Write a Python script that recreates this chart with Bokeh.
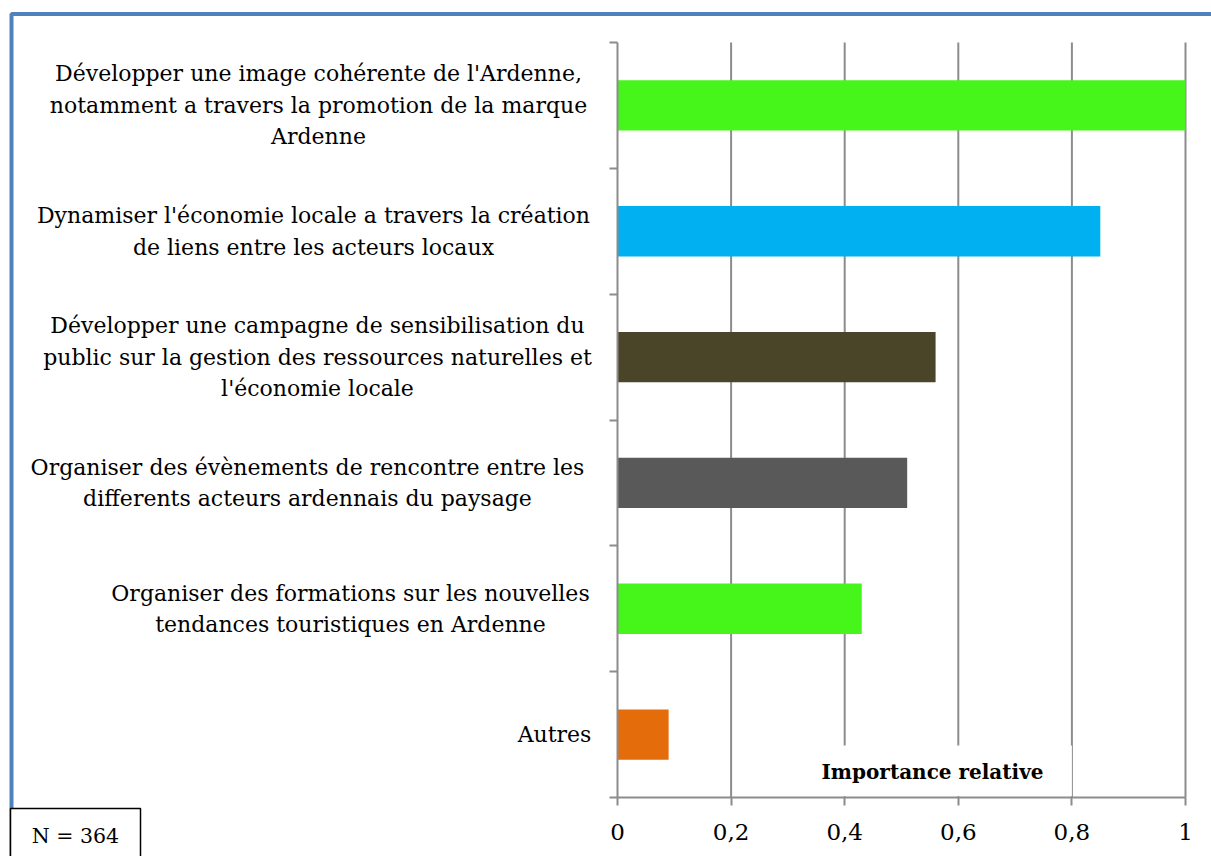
from bokeh.plotting import figure
from bokeh.models import (Range1d, FixedTicker, CustomJSTickFormatter, Label,
                          LinearAxis, ColumnDataSource)
from bokeh.embed import file_html
from bokeh.resources import INLINE

# ---- data ----
categories = [
    "Développer une image cohérente de l'Ardenne,\nnotamment a travers la promotion de la marque\nArdenne",
    "Dynamiser l'économie locale a travers la création\nde liens entre les acteurs locaux",
    "Développer une campagne de sensibilisation du\npublic sur la gestion des ressources naturelles et\nl'économie locale",
    "Organiser des évènements de rencontre entre les\ndifferents acteurs ardennais du paysage",
    "Organiser des formations sur les nouvelles\ntendances touristiques en Ardenne",
    "Autres",
]
values = [1.0, 0.85, 0.56, 0.51, 0.43, 0.09]
bar_colors = ["#46F51A", "#00B0F0", "#4A4429", "#595959", "#46F51A", "#E46C0A"]
x_ticks = [0, 0.2, 0.4, 0.6, 0.8, 1.0]
axis_title = "Importance relative"
n_note = "N = 364"

# ---- layout constants (pixels on the page) ----
W, H = 1211, 856
CH_L, CH_R, CH_T, CH_B = 617, 1185, 42, 797     # chart area (x 0..1, y 0..n)
label_center_px = [318, 313, 317, 307, 350, 554]  # x centre of each label block

n = len(categories)
ypos = [n - i - 0.5 for i in range(n)]

xs = (CH_R - CH_L)          # px per x unit
ys = (CH_B - CH_T) / n      # px per y unit
def px_to_x(px):
    return (px - CH_L) / xs
def py_to_y(py):
    return (CH_B - py) / ys

p = figure(width=W, height=H,
           x_range=Range1d(px_to_x(0), px_to_x(W)),
           y_range=Range1d(py_to_y(H), py_to_y(0)),
           x_axis_location=None, y_axis_location=None,
           output_backend="svg", toolbar_location=None,
           min_border=0, min_border_left=0, min_border_right=0,
           min_border_top=0, min_border_bottom=0)
p.outline_line_color = None
p.background_fill_color = "white"
p.border_fill_color = "white"
p.grid.visible = False

grid_col = "#8C8C8C"

# vertical gridlines over the chart area
p.segment(x0=x_ticks[1:], y0=0, x1=x_ticks[1:], y1=n,
          line_color=grid_col, line_width=2)

# bars
src = ColumnDataSource(dict(y=ypos, value=values, color=bar_colors, cat=categories))
p.hbar(y="y", left=0, right="value", height=0.4, fill_color="color",
       line_color=None, source=src)

# axes at fixed locations
xaxis = LinearAxis(fixed_location=0, bounds=(0, 1),
                   ticker=FixedTicker(ticks=x_ticks),
                   formatter=CustomJSTickFormatter(
                       code="return (Math.round(tick*10)/10).toString().replace('.', ',');"))
xaxis.major_label_text_font = "DejaVu Serif"
xaxis.major_label_text_font_size = "23px"
xaxis.major_label_text_color = "black"
xaxis.major_label_standoff = 18
xaxis.axis_line_color = grid_col
xaxis.axis_line_width = 2
xaxis.major_tick_line_color = grid_col
xaxis.major_tick_line_width = 2
xaxis.major_tick_out = 8
xaxis.major_tick_in = 0
xaxis.minor_tick_line_color = None
p.add_layout(xaxis, "below")

yaxis = LinearAxis(fixed_location=0, bounds=(0, n),
                   ticker=FixedTicker(ticks=list(range(n + 1))),
                   formatter=CustomJSTickFormatter(code="return '';"))
yaxis.major_label_text_font_size = "0px"
yaxis.axis_line_color = grid_col
yaxis.axis_line_width = 2
yaxis.major_tick_line_color = grid_col
yaxis.major_tick_line_width = 2
yaxis.major_tick_out = 8
yaxis.major_tick_in = 0
yaxis.minor_tick_line_color = None
p.add_layout(yaxis, "left")

# category labels (lines centred inside right-aligned blocks, as in Excel)
for i, cat in enumerate(categories):
    p.add_layout(Label(x=px_to_x(label_center_px[i]), y=ypos[i], text=cat,
                       text_align="center", text_baseline="middle",
                       text_font="DejaVu Serif", text_font_size="22px",
                       text_line_height=1.26, text_color="black"))

# axis title with white box inside the plot area
p.quad(left=px_to_x(815), right=0.8, bottom=0.01, top=py_to_y(745),
       fill_color="white", line_color=None)
p.add_layout(Label(x=px_to_x(932), y=py_to_y(771), text=axis_title,
                   text_align="center", text_baseline="middle",
                   text_font="DejaVu Serif", text_font_style="bold",
                   text_font_size="20px", text_color="black"))

# outer blue frame
p.quad(left=px_to_x(11), right=px_to_x(W + 20), top=py_to_y(13.5), bottom=py_to_y(H + 20),
       fill_color=None, line_color="#4F81BD", line_width=4)
# N box
p.quad(left=px_to_x(10), right=px_to_x(140), top=py_to_y(808), bottom=py_to_y(H + 20),
       fill_color="white", line_color="black", line_width=1.5)
p.add_layout(Label(x=px_to_x(75), y=py_to_y(835), text=n_note,
                   text_align="center", text_baseline="middle",
                   text_font="DejaVu Serif", text_font_size="20.5px",
                   text_color="black"))

open("out.html", "w").write(file_html(p, INLINE))
